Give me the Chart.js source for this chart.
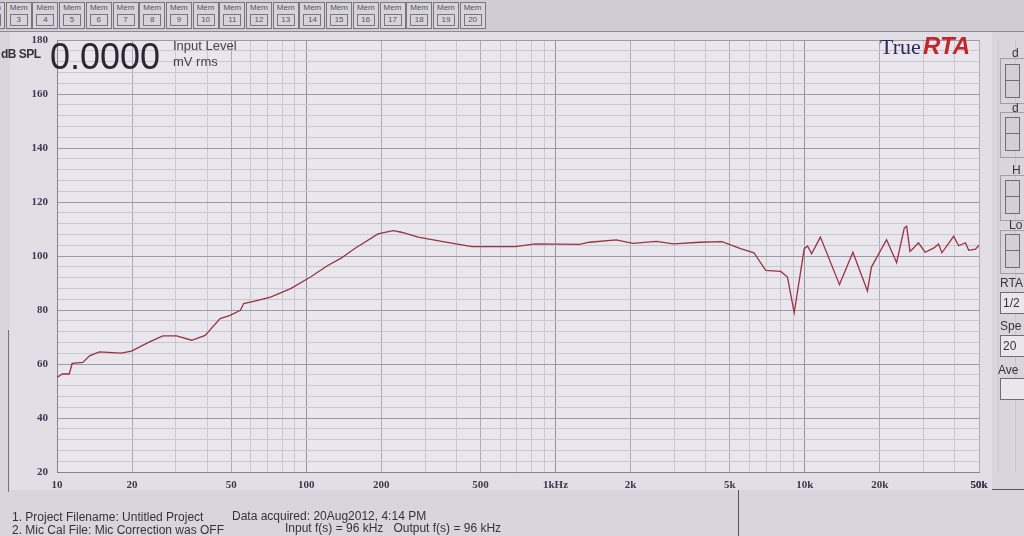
<!DOCTYPE html>
<html>
<head>
<meta charset="utf-8">
<script src="https://cdn.jsdelivr.net/npm/chart.js@4"></script>
<style>
  body { margin: 0; background: #d8d6dc; font-family: "Liberation Sans", Arial, sans-serif; }
  #wrap { position: relative; width: 1024px; height: 536px; overflow: hidden; }
  #topbar { position: absolute; left: 0; top: 0; width: 1024px; height: 31px; background: #cfcdd3; border-bottom: 1px solid #8c8a94; }
  .mem { position: absolute; top: 2px; width: 24px; height: 25px; border: 1px solid #77757f; background: #d6d4da; font-size: 8px; color: #55535d; text-align: center; line-height: 10px; }
  .mem b { display: block; margin: 1px auto 0; width: 16px; border: 1px solid #77757f; font-weight: normal; }
  #panel { position: absolute; left: 10px; top: 32px; width: 982px; height: 458px; background: #e1dfe5; }
  canvas { position: absolute; left: 0; top: 0; }
  .txt { position: absolute; white-space: nowrap; color: #34323c; }
  .spin { position: absolute; left: 1005px; width: 13px; height: 32px; border: 1px solid #6e6c76; background: #d2d0d6; }
  .spin::after { content: ""; position: absolute; left: 0; top: 15px; width: 13px; border-top: 1px solid #6e6c76; }
  .grp { position: absolute; left: 1000px; width: 30px; border: 1px solid #a09ea8; border-right: none; }
  .box { position: absolute; left: 1000px; width: 30px; height: 20px; border: 1px solid #6e6c76; background: #e9e7ec; font-size: 12px; line-height: 20px; padding-left: 2px; color: #333; }
</style>
</head>
<body>
<div id="wrap">
  <div id="topbar"></div>
  <div id="panel"></div>
  <div style="position:absolute;left:738px;top:490px;width:1px;height:46px;background:#55535d"></div>
  <div style="position:absolute;left:992px;top:489px;width:32px;height:1px;background:#55535d"></div>
  <div style="position:absolute;left:8px;top:330px;width:1px;height:162px;background:#77757f"></div>

  <canvas id="myChart" width="1024" height="536"></canvas>

  <div class="txt" style="left:1px;top:47px;font-size:12px;font-weight:bold;letter-spacing:-0.5px">dB SPL</div>
  <div class="txt" style="left:50px;top:36px;font-size:36px;color:#2a2834">0.0000</div>
  <div class="txt" style="left:173px;top:38px;font-size:13px;color:#45434d">Input Level</div>
  <div class="txt" style="left:173px;top:54px;font-size:13px;color:#45434d">mV rms</div>
  <div class="txt" style="left:880px;top:34px;font-size:22px;font-family:'Liberation Serif',serif;color:#2c2c58">True</div>
  <div class="txt" style="left:923px;top:32px;font-size:24px;font-weight:bold;font-style:italic;color:#c3262a">RTA</div>

  <div class="txt" style="left:12px;top:510px;font-size:12px">1. Project Filename: Untitled Project</div>
  <div class="txt" style="left:232px;top:509px;font-size:12px">Data acquired: 20Aug2012, 4:14 PM</div>
  <div class="txt" style="left:12px;top:523px;font-size:12px">2. Mic Cal File: Mic Correction was OFF</div>
  <div class="txt" style="left:285px;top:521px;font-size:12px">Input f(s) = 96 kHz &nbsp; Output f(s) = 96 kHz</div>

  <div class="grp" style="top:58px;height:44px"></div>
  <div class="txt" style="left:1012px;top:46px;font-size:12px">d</div>
  <div class="spin" style="top:64px"></div>
  <div class="grp" style="top:112px;height:44px"></div>
  <div class="txt" style="left:1012px;top:101px;font-size:12px">d</div>
  <div class="spin" style="top:117px"></div>
  <div class="grp" style="top:175px;height:44px"></div>
  <div class="txt" style="left:1012px;top:163px;font-size:12px">H</div>
  <div class="spin" style="top:180px"></div>
  <div class="grp" style="top:230px;height:42px"></div>
  <div class="txt" style="left:1009px;top:218px;font-size:12px">Lo</div>
  <div class="spin" style="top:234px"></div>
  <div class="txt" style="left:1000px;top:276px;font-size:12px">RTA</div>
  <div class="box" style="top:292px">1/2</div>
  <div class="txt" style="left:1000px;top:319px;font-size:12px">Spe</div>
  <div class="box" style="top:335px">20</div>
  <div class="txt" style="left:998px;top:363px;font-size:12px">Ave</div>
  <div class="box" style="top:378px"></div>
</div>

<script>
const freqHz = [10, 10.5, 11.2, 11.5, 12.7, 13.5, 14.8, 18.1, 19.9, 23.5, 26.6, 30.2, 34.7, 39.3,
  45.1, 49.5, 54.4, 56.1, 61.5, 71.9, 86.6, 104, 122, 138, 156, 194, 223, 241, 281, 349, 462,
  689, 830, 1247, 1368, 1752, 2047, 2535, 2970, 3807, 4655, 5523, 6252, 6970, 8013, 8520, 9070,
  9950, 10260, 10650, 11550, 13780, 15600, 17840, 18510, 21290, 23360, 25070, 25630, 26430,
  27270, 28570, 30400, 32850, 34410, 35500, 39560, 41440, 44100, 45480, 48400, 50000];
const splDb = [55, 56.3, 56.3, 60.2, 60.6, 63, 64.5, 64, 64.8, 68.2, 70.4, 70.4, 68.8, 70.6,
  76.8, 78, 79.9, 82.4, 83.2, 84.8, 87.9, 92.2, 96.5, 99.2, 102.7, 108.2, 109.4, 108.8, 107, 105.4, 103.5,
  103.5, 104.5, 104.3, 105.1, 106, 104.7, 105.4, 104.5, 105.1, 105.3, 102.7, 101.2, 94.7, 94.3, 92.2, 79,
  102.7, 103.7, 100.8, 107, 89.4, 101.4, 87, 95.9, 106, 97.5, 110.3, 111, 101.7,
  102.9, 104.9, 101.4, 102.9, 104.4, 101.2, 107.3, 103.8, 104.9, 102.1, 102.5, 104];

const freqTicks = [10, 20, 50, 100, 200, 500, 1000, 2000, 5000, 10000, 20000, 50000];
const freqLabels = ['10', '20', '50', '100', '200', '500', '1kHz', '2k', '5k', '10k', '20k', '50k'];
const dbLabels = [20, 40, 60, 80, 100, 120, 140, 160, 180];
const memButtons = [2, 3, 4, 5, 6, 7, 8, 9, 10, 11, 12, 13, 14, 15, 16, 17, 18, 19, 20];

// memory buttons along the top
const bar = document.getElementById('topbar');
memButtons.forEach((n, i) => {
  const d = document.createElement('div');
  d.className = 'mem';
  d.style.left = (i * 26.7 - 21) + 'px';
  d.innerHTML = 'Mem<b>' + n + '</b>';
  bar.appendChild(d);
});

// grid lines: 1..9 per decade, 4 dB steps
const xGrid = [];
for (let dec = 10; dec <= 10000; dec *= 10) {
  for (let m = 1; m <= 9; m++) xGrid.push(dec * m);
}
xGrid.push(50000);
const yGrid = [];
for (let v = 20; v <= 180; v += 4) yGrid.push(v);

const plotBg = {
  id: 'plotBg',
  beforeDraw(chart) {
    const a = chart.chartArea, c = chart.ctx;
    c.save();
    c.fillStyle = '#e9e7ed';
    c.fillRect(a.left, a.top, a.right - a.left, a.bottom - a.top);
    c.restore();
  }
};

const ctx = document.getElementById('myChart');

new Chart(ctx, {
  type: 'line',
  data: {
    datasets: [{
      label: 'SPL',
      data: freqHz.map((f, i) => ({ x: f, y: splDb[i] })),
      borderColor: '#9a3340',
      borderWidth: 1.3,
      pointRadius: 0,
      tension: 0,
      fill: false
    }]
  },
  options: {
    responsive: false,
    animation: false,
    layout: { padding: { top: 40, right: 45, bottom: 44, left: 0 } },
    plugins: {
      legend: { display: false },
      tooltip: { enabled: false }
    },
    scales: {
      x: {
        type: 'logarithmic',
        min: 10,
        max: 50000,
        afterFit: s => { s.height = 20; },
        afterBuildTicks: s => { s.ticks = xGrid.map(v => ({ value: v })); },
        border: { display: true, color: '#85838f' },
        grid: {
          drawTicks: false,
          color: c => {
            const v = c.tick ? c.tick.value : 0;
            if ([10, 100, 1000, 10000].includes(v)) return '#94929e';
            if (freqTicks.includes(v)) return '#aeacb6';
            return '#c9c7cf';
          }
        },
        ticks: {
          autoSkip: false,
          maxRotation: 0,
          padding: 7,
          color: '#3a3850',
          font: { family: 'Liberation Serif', size: 11, weight: 'bold' },
          callback: v => {
            const i = freqTicks.indexOf(v);
            return i >= 0 ? freqLabels[i] : '';
          }
        }
      },
      y: {
        min: 20,
        max: 180,
        afterFit: s => { s.width = 57; },
        afterBuildTicks: s => { s.ticks = yGrid.map(v => ({ value: v })); },
        border: { display: true, color: '#85838f' },
        grid: {
          drawTicks: false,
          color: c => (c.tick && dbLabels.includes(c.tick.value)) ? '#9c9aa6' : '#c9c7cf'
        },
        ticks: {
          autoSkip: false,
          padding: 9,
          color: '#3a3850',
          font: { family: 'Liberation Serif', size: 11, weight: 'bold' },
          callback: v => dbLabels.includes(v) ? String(v) : ''
        }
      }
    }
  },
  plugins: [plotBg]
});
</script>
</body>
</html>
